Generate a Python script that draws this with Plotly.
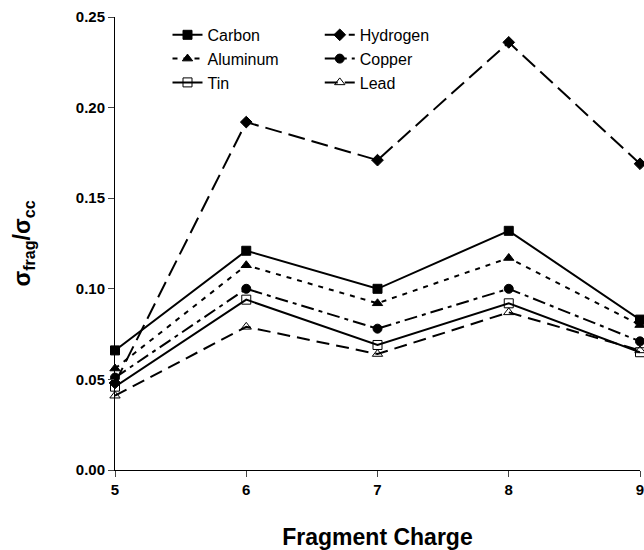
import plotly.graph_objects as go

charges = [5, 6, 7, 8, 9]
carbon = [0.066, 0.121, 0.100, 0.132, 0.083]
hydrogen = [0.048, 0.192, 0.171, 0.236, 0.169]
aluminum = [0.056, 0.113, 0.092, 0.117, 0.080]
copper = [0.051, 0.100, 0.078, 0.100, 0.071]
tin = [0.046, 0.094, 0.069, 0.092, 0.065]
lead = [0.041, 0.079, 0.064, 0.087, 0.066]

y_ticks = [0.00, 0.05, 0.10, 0.15, 0.20, 0.25]

series = [
    ("Carbon", carbon, "solid", "square", "legend"),
    ("Aluminum", aluminum, "5px,6px", "triangle-up", "legend"),
    ("Tin", tin, "solid", "square-open", "legend"),
    ("Hydrogen", hydrogen, "17px,7px", "diamond", "legend2"),
    ("Copper", copper, "13px,5px,4px,5px", "circle", "legend2"),
    ("Lead", lead, "13px,7px", "triangle-up-open", "legend2"),
]

fig = go.Figure()
for name, vals, dash, sym, lg in series:
    fig.add_trace(go.Scatter(
        x=charges, y=vals, name=name, mode="lines+markers",
        line=dict(color="black", width=2, dash=dash),
        marker=dict(symbol=sym, size=9, color="black", line=dict(color="black", width=1)),
        cliponaxis=False, legend=lg,
    ))

font_family = "Liberation Sans, Arial, sans-serif"
fig.update_layout(
    width=644, height=550,
    margin=dict(l=115, r=0, t=17, b=80),
    plot_bgcolor="white", paper_bgcolor="white",
    font=dict(family=font_family, color="black"),
    xaxis=dict(
        range=[5, 9], tickvals=charges, ticks="outside", ticklen=6,
        ticklabeloverflow="allow",
        showline=True, linecolor="black", linewidth=1, showgrid=False, zeroline=False,
        tickfont=dict(size=15, family=font_family, weight="bold"),
        title=dict(text="<b>Fragment Charge</b>", font=dict(size=23), standoff=32),
    ),
    yaxis=dict(
        range=[0, 0.25], tickvals=y_ticks, tickformat=".2f", ticks="outside", ticklen=6,
        showline=True, linecolor="black", linewidth=1, showgrid=False, zeroline=False,
        tickfont=dict(size=15, family=font_family, weight="bold"),
        title=dict(text="<b>σ<sub>frag</sub>/σ<sub>cc</sub></b>", font=dict(size=23), standoff=38),
    ),
    legend=dict(x=0.10, y=0.998, xanchor="left", yanchor="top", bgcolor="rgba(0,0,0,0)",
                font=dict(size=16), itemwidth=30, tracegroupgap=0),
    legend2=dict(x=0.39, y=0.998, xanchor="left", yanchor="top", bgcolor="rgba(0,0,0,0)",
                 font=dict(size=16), itemwidth=30, tracegroupgap=0),
)

fig.write_html(
    "out.html",
    config={"displayModeBar": False},
    post_script="document.body.style.margin='0';document.body.style.overflow='hidden';",
)
